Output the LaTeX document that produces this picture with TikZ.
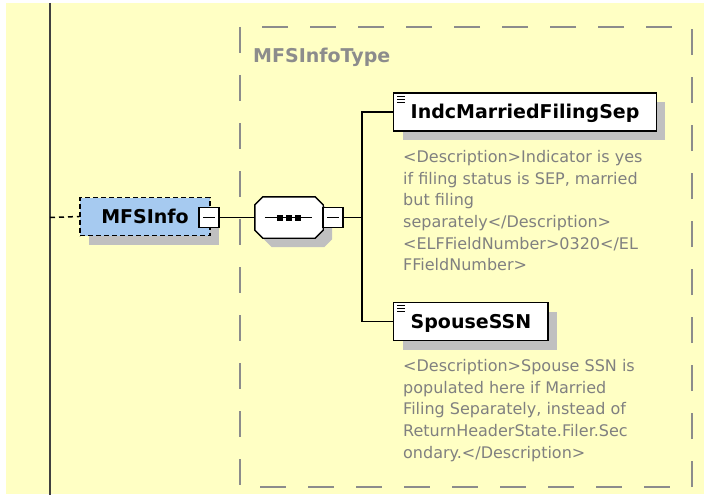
\documentclass[tikz,border=0pt]{standalone}
\usepackage{fontspec}
\setmainfont{DejaVu Sans}
\usetikzlibrary{shadows}

\definecolor{paneyellow}{HTML}{FFFFC4}
\definecolor{elemblue}{HTML}{A6CAF0}
\definecolor{shadowgray}{HTML}{C0C0C0}
\definecolor{typegray}{HTML}{8C8C8C}
\definecolor{notegray}{HTML}{808080}

\begin{document}
\begin{tikzpicture}[x=1pt, y=-1pt,
    boxshadow/.style={drop shadow={shadow xshift=9pt, shadow yshift=-9pt, fill=shadowgray, opacity=1}},
    elem/.style={draw=black, line width=1.4pt, fill=white, inner xsep=17pt, inner ysep=0pt,
      minimum height=38pt, text height=13.9pt, text depth=0pt,
      font=\fontsize{19}{19}\selectfont\bfseries, boxshadow},
    expander/.style={draw=black, line width=1.2pt, fill=white, minimum size=20pt, inner sep=0pt,
      path picture={\draw[line width=1.3pt] ([xshift=4pt]path picture bounding box.west)
        -- ([xshift=-4pt]path picture bounding box.east);}},
    note/.style={text=notegray, font=\fontsize{16}{21.7}\selectfont, align=left,
      anchor=north west, inner sep=0pt},
    wire/.style={black, line width=1.5pt}]

  % 1. pane, left rail and the type frame
  \useasboundingbox (0,0) rectangle (704,495);
  \fill[white] (0,0) rectangle (704,495);
  \fill[paneyellow] (6,3) rectangle (704,494);
  \draw[black!75, line width=2.4pt] (50,3) -- (50,495);
  \draw[typegray, line width=2pt, dash pattern=on 26pt off 22pt] (240,27) rectangle (692,487);
  \node[text=typegray, font=\fontsize{19}{19}\selectfont\bfseries, anchor=base west, inner sep=0pt]
    (typename) at (253,63) {MFSInfoType};

  % 2. the MFSInfo element and its sequence
  \node[elem, fill=elemblue, dash pattern=on 5pt off 3pt, line width=1.5pt, minimum width=130pt, inner xsep=0pt]
    (info) at (145,216.5) {MFSInfo\hspace{8pt}};
  \node[expander] (infoexp) at (209,217.5) {};
  \node[minimum width=68pt, minimum height=41pt, inner sep=0pt] (seq) at (289,217.5) {};
  \draw[line width=1.4pt, fill=white, boxshadow]
    ([shift={(8,0)}]seq.north west) -- ([shift={(-8,0)}]seq.north east) -- ([shift={(0,8)}]seq.north east)
    -- ([shift={(0,-8)}]seq.south east) -- ([shift={(-8,0)}]seq.south east) -- ([shift={(8,0)}]seq.south west)
    -- ([shift={(0,-8)}]seq.south west) -- ([shift={(0,8)}]seq.north west) -- cycle;
  \node[expander] (seqexp) at (333,217.5) {};
  \coordinate (fork) at (362,217.5);

  \draw[wire] ([xshift=10pt]seq.west) -- ([xshift=-11pt]seq.east);
  \foreach \dx in {-9,0,9}
    \fill ([xshift=\dx pt]seq.center) +(-3,-3) rectangle +(3,3);

  % 3. child elements
  \node[elem, anchor=west] (indc) at (393,112) {IndcMarriedFilingSep};
  \node[elem, anchor=west] (spouse) at (393,321.5) {SpouseSSN};
  \foreach \el in {indc, spouse}
    \foreach \k in {0,1,2}
      \draw[line width=1pt] ([shift={(4,4+3*\k)}]\el.north west) -- ++(8,0);

  % 4. connectors
  \draw[wire, dash pattern=on 5pt off 4pt] (50,217.5) -- (info.west);
  \draw[wire] (infoexp.east) -- (seq.west);
  \draw[wire] (seqexp.east) -- (fork);
  \draw[wire] (indc.west) -| (fork) |- (spouse.west);

  % 5. annotations
  \node[note] (indcnote) at (403,150) {<Description>Indicator is yes\\if filing status is SEP, married\\but filing\\separately</Description>\\<ELFFieldNumber>0320</EL\\FFieldNumber>};
  \node[note] (spousenote) at (403,359) {<Description>Spouse SSN is\\populated here if Married\\Filing Separately, instead of\\ReturnHeaderState.Filer.Sec\\ondary.</Description>};
\end{tikzpicture}
\end{document}
